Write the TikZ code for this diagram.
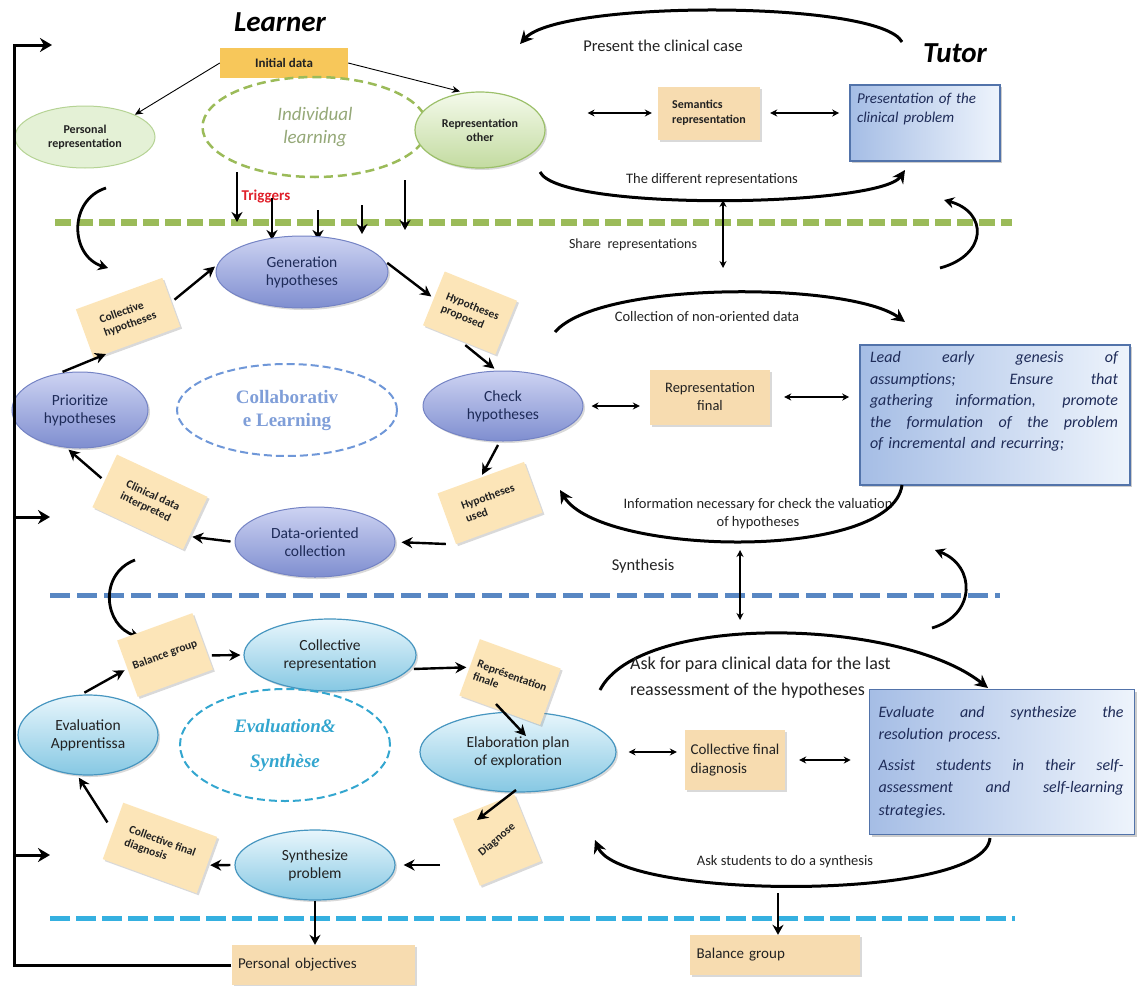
\documentclass[tikz,border=0pt]{standalone}
\usepackage{fontspec}
\setmainfont{Carlito}
\newfontfamily\serifbf{Liberation Serif}
\usetikzlibrary{shapes.geometric,arrows.meta,shadows,calc}
\definecolor{gold}{HTML}{F7C75A}
\definecolor{peach}{HTML}{FCE5B8}
\definecolor{wheat}{HTML}{F7DCB0}
\definecolor{gline}{HTML}{9BBB59}
\definecolor{bline}{HTML}{5887C3}
\definecolor{cline}{HTML}{35B0E0}
\definecolor{navy}{HTML}{1E2B58}
\definecolor{txt}{HTML}{222222}
\definecolor{gfill}{HTML}{E4F1D6}
\definecolor{gdraw}{HTML}{B5D394}
\definecolor{gtop}{HTML}{F4FAEB}
\definecolor{gbot}{HTML}{C3DBA0}
\definecolor{gdraw2}{HTML}{9CC06A}
\definecolor{btop}{HTML}{CDD3F2}
\definecolor{bbot}{HTML}{7F8ED0}
\definecolor{bdraw}{HTML}{7483C4}
\definecolor{ctop}{HTML}{E8F6FC}
\definecolor{cbot}{HTML}{86C8E3}
\definecolor{cdraw}{HTML}{4796C0}
\definecolor{pbl}{HTML}{A5BDE5}
\definecolor{pbr}{HTML}{EEF4FC}
\definecolor{pbd}{HTML}{5273AA}
\definecolor{indtxt}{HTML}{95A878}
\definecolor{coltxt}{HTML}{7F9ED8}
\definecolor{coldash}{HTML}{6F97D8}
\definecolor{evtxt}{HTML}{33A6CF}
\definecolor{trigred}{HTML}{E0202A}
\newcommand{\jl}[2][248pt]{{\spaceskip=0.3em plus 20em\xspaceskip=0.3em plus 20em\makebox[#1][s]{#2}}}
\begin{document}
\begin{tikzpicture}[x=1pt,y=-1pt,
  every node/.style={text=txt},
  thinarr/.style={-{Stealth[length=8pt,width=7pt]}, line width=0.9pt},
  cyc/.style={-{Stealth[length=11pt,width=11pt]}, line width=2.4pt, shorten <=4pt, shorten >=3pt},
  cyc0/.style={-{Stealth[length=11pt,width=11pt]}, line width=2.4pt},
  dbl/.style={{Stealth[length=7pt,width=7pt]}-{Stealth[length=7pt,width=7pt]}, line width=1.1pt},
  bigarc/.style={line width=3pt, -{Stealth[length=13pt,width=13pt]}},
  sidearc/.style={line width=2.8pt, -{Stealth[length=10pt,width=11pt]}},
  trig/.style={-{Stealth[length=10pt,width=11pt]}, line width=2pt},
  frame/.style={line width=3pt},
  shad/.style={drop shadow={opacity=0.3,shadow xshift=2pt,shadow yshift=-2pt}},
  gell/.style={ellipse, inner sep=0pt, fill=gfill, draw=gdraw, line width=1pt, font=\bfseries\fontsize{12}{14}\selectfont, align=center},
  gell2/.style={ellipse, inner sep=0pt, top color=gtop, bottom color=gbot, draw=gdraw2, line width=1.2pt, shad, font=\bfseries\fontsize{12}{14}\selectfont, align=center},
  bell/.style={ellipse, inner sep=0pt, top color=btop, bottom color=bbot, draw=bdraw, line width=1pt, shad, font=\fontsize{15.5}{18}\selectfont, text=navy, align=center},
  cell/.style={ellipse, inner sep=0pt, top color=ctop, bottom color=cbot, draw=cdraw, line width=1.2pt, shad, font=\fontsize{15.5}{18}\selectfont, text=txt, align=center},
  tbox/.style={rectangle, fill=peach, inner sep=3pt, shad, font=\bfseries\fontsize{11.5}{13.5}\selectfont, align=left},
  wbox/.style={rectangle, fill=wheat, inner sep=4pt, shad},
  bluebox/.style={rectangle, left color=pbl, right color=pbr, draw=pbd, line width=1.6pt, drop shadow={opacity=0.4,shadow xshift=2pt,shadow yshift=-2pt}, font=\itshape\fontsize{16}{21.5}\selectfont, text=navy, align=left},
  lbl/.style={inner sep=0pt, align=center}
]
\path[use as bounding box] (0,0) rectangle (1142,985);

% ---------- dashed separators ----------
\coordinate (g0) at (55,222); \coordinate (g1) at (1012,222);
\coordinate (b0) at (50,595); \coordinate (b1) at (1000,595);
\coordinate (c0) at (50,918); \coordinate (c1) at (1015,918);
\draw[gline, line width=7pt, dash pattern=on 16pt off 6pt] (g0) -- (g1);
\draw[bline, line width=5pt, dash pattern=on 20pt off 7pt] (b0) -- (b1);
\draw[cline, line width=5pt, dash pattern=on 20pt off 6pt] (c0) -- (c1);

% ---------- titles ----------
\node[lbl, font=\bfseries\itshape\fontsize{29}{31}\selectfont, text=black] (learner) at (280,22) {Learner};
\node[lbl, font=\bfseries\itshape\fontsize{29}{31}\selectfont, text=black] (tutor) at (955,53) {Tutor};

% ---------- top (individual) section ----------
\node[rectangle, fill=gold, minimum width=128pt, minimum height=30pt, font=\bfseries\fontsize{13}{15}\selectfont] (init) at (284,63) {Initial data};
\node[gell, minimum width=140pt, minimum height=62pt] (pers) at (85,137) {Personal\\representation};
\node[ellipse, draw=gline, dashed, dash pattern=on 9pt off 5pt, line width=2.5pt, minimum width=225pt, minimum height=100pt, inner sep=0pt, font=\itshape\fontsize{19}{23}\selectfont, text=indtxt, align=center] (indiv) at (315,127) {Individual\\learning};
\node[gell2, minimum width=130pt, minimum height=76pt] (other) at (480,130) {Representation\\other};
\node[wbox, minimum width=102pt, minimum height=53pt, font=\bfseries\fontsize{12}{15}\selectfont, align=left] (sem) at (709,113) {Semantics\\representation};
\node[bluebox, minimum width=150pt, minimum height=76pt, text width=136pt, font=\itshape\fontsize{15}{19}\selectfont] (pres) at (925,123) {Presentation of the\\clinical problem\\[12pt]\mbox{}};

\draw[thinarr] (init.west) -- (pers.north east);
\draw[thinarr] (init.east) -- ([xshift=-20pt]other.north);
\draw[dbl, shorten <=42pt, shorten >=6pt] (other.east |- sem.west) -- (sem.west);
\draw[dbl, shorten <=10pt, shorten >=10pt] (sem.east) -- (sem.east -| pres.west);

% top arcs
\coordinate (pa0) at (902,42); \coordinate (pa1) at (520,44);
\draw[bigarc] (pa0) .. controls (880,0) and (560,0) .. (pa1);
\node[lbl, font=\fontsize{16.5}{19}\selectfont] (presentlbl) at (663,46) {Present the clinical case};
\coordinate (da0) at (540,172); \coordinate (da1) at (905,170);
\draw[bigarc] (da0) .. controls (560,212) and (880,207) .. (da1);
\node[lbl, font=\fontsize{14.5}{17}\selectfont] (difflbl) at (712,180) {The different representations};

% triggers
\node[lbl, font=\bfseries\fontsize{15}{17}\selectfont, text=trigred] (triggers) at (266,197) {Triggers};
\foreach \x/\a/\b [count=\i] in {237/172/222, 272/198/240, 318/210/240, 362/205/234, 405/180/230}{
  \coordinate (t\i a) at (\x,\a); \coordinate (t\i b) at (\x,\b);
  \draw[trig] (t\i a) -- (t\i b);
}

% share representations
\coordinate (s1) at (723,200); \coordinate (s2) at (723,268);
\draw[dbl] (s1) -- (s2);
\node[lbl, font=\fontsize{14}{16}\selectfont] (sharelbl) at (633,245) {Share\ \ representations};

% side arcs across green line
\coordinate (lg0) at (106,188); \coordinate (lg1) at (108,268);
\draw[sidearc] (lg0) .. controls (68,200) and (70,256) .. (lg1);
\coordinate (rg0) at (940,268); \coordinate (rg1) at (944,200);
\draw[sidearc] (rg0) .. controls (988,255) and (988,212) .. (rg1);

% ---------- collaborative section ----------
\node[bell, minimum width=172pt, minimum height=72pt] (gen) at (302,272) {Generation\\hypotheses};
\node[bell, minimum width=160pt, minimum height=70pt] (check) at (503,406) {Check\\hypotheses};
\node[bell, minimum width=136pt, minimum height=76pt] (prio) at (80,410) {Prioritize\\hypotheses};
\node[bell, minimum width=160pt, minimum height=70pt] (data) at (315,542) {Data-oriented\\collection};
\node[ellipse, draw=coldash, dashed, dash pattern=on 8pt off 4pt, line width=2pt, minimum width=220pt, minimum height=92pt, inner sep=0pt, font=\serifbf\bfseries\fontsize{19}{23}\selectfont, text=coltxt, align=center] (collab) at (287,410) {Collaborativ\\e Learning};

\node[tbox, minimum width=92pt, minimum height=52pt, rotate=20] (chyp) at (128,318) {Collective\\hypotheses};
\node[tbox, minimum width=78pt, minimum height=58pt, rotate=-22] (hprop) at (470,313) {Hypotheses\\proposed};
\node[tbox, minimum width=92pt, minimum height=54pt, rotate=20] (hused) at (490,503) {Hypotheses\\used};
\node[tbox, minimum width=100pt, minimum height=58pt, rotate=-25] (clin) at (150,502) {Clinical data\\interpreted};

\draw[cyc] (chyp.east) -- (gen.175);
\draw[cyc] (gen.8) -- (hprop.west);
\draw[cyc, shorten <=8pt] (hprop.south) -- (check.100);
\draw[cyc] (check.-95) -- (hused.north);
\draw[cyc, shorten <=10pt, shorten >=6pt] (hused.south west) -- (data.east);
\draw[cyc] (data.west) -- ($(clin.east)!0.5!(clin.south east)$);
\draw[cyc] (clin.west) -- (prio.-110);
\draw[cyc] (prio.120) -- ($(chyp.south west)!0.35!(chyp.south)$);

\node[wbox, minimum width=120pt, minimum height=55pt, font=\fontsize{14.5}{18}\selectfont, align=center] (repfin) at (710,397) {Representation\\final};
\node[bluebox, minimum width=270pt, minimum height=140pt, text width=250pt] (lead) at (995,415) {\jl{Lead early genesis of}\\\jl{assumptions; Ensure that}\\\jl{gathering information, promote}\\\jl{the formulation of the problem}\\of incremental and recurring;\\[8pt]\mbox{}};
\draw[dbl, shorten <=8pt, shorten >=10pt] (check.east) -- (check.east -| repfin.west);
\draw[dbl, shorten <=14pt, shorten >=10pt] (repfin.east) -- (repfin.east -| lead.west);

\coordinate (cn0) at (555,332); \coordinate (cn1) at (905,322);
\draw[bigarc] (cn0) .. controls (600,280) and (850,282) .. (cn1);
\node[lbl, font=\fontsize{14.5}{17}\selectfont] (colllbl) at (707,317) {Collection of non-oriented data};
\coordinate (in0) at (902,485); \coordinate (in1) at (560,490);
\node[lbl, font=\fontsize{14.5}{18}\selectfont] (infolbl) at (758,514) {Information necessary for check the valuation\\of hypotheses};
\draw[bigarc] (in0) .. controls (892,562) and (600,556) .. (in1);

% synthesis
\coordinate (y1) at (740,550); \coordinate (y2) at (740,620);
\draw[dbl, line width=1.6pt] (y1) -- (y2);
\node[lbl, font=\fontsize{16.5}{19}\selectfont] (synlbl) at (643,566) {Synthesis};

% side arcs across blue line
\coordinate (lb0) at (135,560); \coordinate (lb1) at (140,637);
\draw[sidearc] (lb0) .. controls (98,574) and (104,626) .. (lb1);
\coordinate (rb0) at (932,628); \coordinate (rb1) at (935,550);
\draw[sidearc] (rb0) .. controls (976,615) and (976,566) .. (rb1);

% ---------- evaluation section ----------
\node[cell, minimum width=172pt, minimum height=72pt] (collrep) at (330,655) {Collective\\representation};
\node[cell, minimum width=196pt, minimum height=80pt] (elab) at (518,752) {Elaboration plan\\of exploration};
\node[cell, minimum width=140pt, minimum height=80pt] (evalapp) at (88,735) {Evaluation\\Apprentissa};
\node[cell, minimum width=160pt, minimum height=70pt] (synth) at (315,865) {Synthesize\\problem};
\node[ellipse, draw=evtxt, dashed, dash pattern=on 8pt off 4pt, line width=2pt, minimum width=210pt, minimum height=112pt, inner sep=0pt, font=\serifbf\bfseries\itshape\fontsize{19}{23}\selectfont, text=evtxt, align=center] (evsyn) at (285,745) {Evaluation\&\\[12pt]Synthèse};

\node[tbox, minimum width=80pt, minimum height=60pt, rotate=20] (bal) at (165,655) {Balance group};
\node[tbox, minimum width=86pt, minimum height=60pt, rotate=-20] (rfin) at (510,682) {Représentation\\finale};
\node[tbox, minimum width=66pt, minimum height=72pt, rotate=22] (diag) at (497,840) {\rotatebox{18}{Diagnose}};
\node[tbox, minimum width=100pt, minimum height=60pt, rotate=-20] (cfdiag) at (160,848) {Collective final\\diagnosis};

\draw[cyc] ($(bal.east)!0.5!(bal.south east)$) -- (collrep.west);
\draw[cyc] (collrep.-10) -- (rfin.west);
\draw[cyc0] ($(rfin.center)+(-14,22)$) -- ($(elab.center)+(8,-16)$);
\draw[cyc0] ($(elab.center)+(-2,38)$) -- ($(diag.center)+(-20,-20)$);
\draw[cyc, shorten <=57pt, shorten >=8pt] (diag.center |- synth.east) -- (synth.east);
\draw[cyc] (synth.west) -- (cfdiag.east);
\draw[cyc, shorten <=10pt] (cfdiag.west) -- (evalapp.-105);
\draw[cyc] (evalapp.100) -- (bal.west);

\node[wbox, minimum width=100pt, minimum height=60pt, font=\fontsize{15}{19}\selectfont, align=left] (cfd) at (735,760) {Collective final\\diagnosis};
\node[bluebox, minimum width=265pt, minimum height=145pt, text width=247pt, font=\itshape\fontsize{16}{22.5}\selectfont] (evalbox) at (1002,762) {\jl[245pt]{Evaluate and synthesize the}\\resolution process.\\[8pt]\jl[245pt]{Assist students in their self-}\\\jl[245pt]{assessment and self-learning}\\strategies.};
\draw[dbl, shorten <=12pt, shorten >=8pt] (elab.east) -- (elab.east -| cfd.west);
\draw[dbl, shorten <=14pt, shorten >=18pt] (cfd.east) -- (cfd.east -| evalbox.west);

\coordinate (ap0) at (600,690); \coordinate (ap1) at (988,688);
\draw[bigarc] (ap0) .. controls (640,612) and (900,618) .. (ap1);
\node[lbl, anchor=west, align=left, font=\fontsize{18}{26}\selectfont] (asklbl) at (630,678) {Ask for para clinical data for the last\\reassessment of the hypotheses};
\coordinate (as0) at (990,838); \coordinate (as1) at (595,840);
\draw[bigarc] (as0) .. controls (985,902) and (620,900) .. (as1);
\node[lbl, font=\fontsize{14.5}{17}\selectfont] (asklbl2) at (785,862) {Ask students to do a synthesis};

% bottom boxes
\node[wbox, minimum width=183pt, minimum height=40pt, text width=170pt, font=\fontsize{15}{18}\selectfont, align=left] (pobj) at (323,965) {Personal objectives};
\node[wbox, minimum width=170pt, minimum height=40pt, text width=157pt, font=\fontsize{15}{18}\selectfont, align=left] (bgrp) at (775,955) {Balance group};
\draw[trig] (synth.south) -- (synth.south |- pobj.north);
\coordinate (bg0) at (778,893);
\draw[trig] (bg0) -- (bg0 |- bgrp.north);

% ---------- left frame ----------
\coordinate (f0) at (14,45); \coordinate (f1) at (14,965); \coordinate (fa) at (52,45);
\draw[frame, -{Stealth[length=12pt,width=14pt]}] (pobj.west) -- (f1) -- (f0) -- (fa);
\coordinate (m1) at (14,517); \coordinate (m1e) at (50,517);
\coordinate (m2) at (14,855); \coordinate (m2e) at (50,855);
\draw[frame, -{Stealth[length=12pt,width=14pt]}] (m1) -- (m1e);
\draw[frame, -{Stealth[length=12pt,width=14pt]}] (m2) -- (m2e);
\end{tikzpicture}
\end{document}
